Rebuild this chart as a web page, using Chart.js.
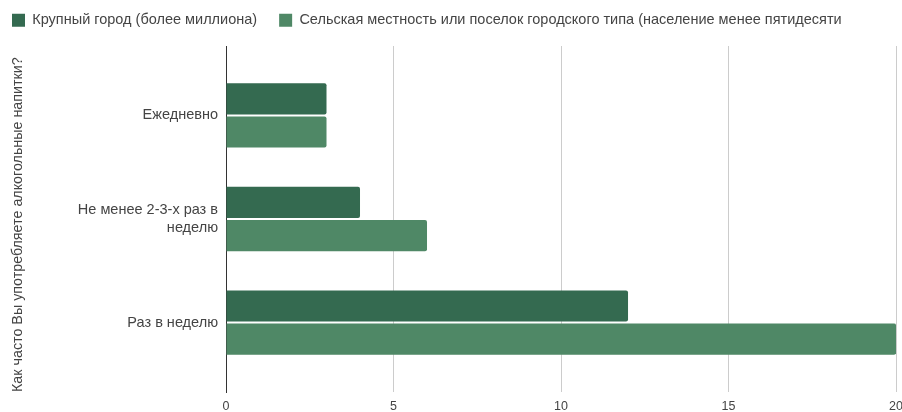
<!DOCTYPE html>
<html>
<head>
<meta charset="utf-8">
<script src="https://cdn.jsdelivr.net/npm/chart.js@4"></script>
<style>
  html, body { margin: 0; padding: 0; background: #fff; overflow: hidden; }
  #wrap { position: relative; width: 910px; height: 421px; }
</style>
</head>
<body>
<div id="wrap"><canvas id="chart"></canvas></div>
<script>
"use strict";

// ── données ──
const categories = ["Ежедневно", ["Не менее 2-3-х раз в", "неделю"], "Раз в неделю"];
const seriesNames = [
    "Крупный город (более миллиона)",
    "Сельская местность или поселок городского типа (население менее пятидесяти"
];
const bigCity  = [3, 4, 12];
const village  = [3, 6, 20];
const xTicks   = [0, 5, 10, 15, 20];
const axisTitle = "Как часто Вы употребляете алкогольные напитки?";

const FONT = "'Liberation Sans', Arial, sans-serif";
const LEGEND_H = 55;
const N = categories.length;
// première catégorie en haut : index inversé sur l'axe y linéaire
const toPoints = arr => arr.map((v, i) => ({ x: v, y: N - 1 - i }));

// hauteur fixe de la légende (espace avant la zone du graphique)
const legendGap = {
    id: "legendGap",
    beforeInit(chart) {
        const fit = chart.legend.fit;
        chart.legend.fit = function () { fit.call(this); this.height = LEGEND_H; };
    }
};

new Chart(document.getElementById("chart"), {
    type: "bar",
    data: {
        datasets: [
            { label: seriesNames[0], data: toPoints(bigCity), backgroundColor: "#346a50" },
            { label: seriesNames[1], data: toPoints(village), backgroundColor: "#4f8866" }
        ]
    },
    plugins: [legendGap],
    options: {
        indexAxis: "y",
        responsive: true, maintainAspectRatio: false,
        animation: false,
        layout: { padding: { left: -10, right: 0, top: -9, bottom: 0 } },
        datasets: { bar: { categoryPercentage: 0.64, barPercentage: 0.94, borderRadius: 2, borderSkipped: "start" } },
        plugins: {
            legend: {
                align: "start",
                labels: { boxWidth: 13, boxHeight: 13, color: "#444", padding: 22, font: { family: FONT, size: 14.5 } }
            },
            tooltip: { enabled: false }
        },
        scales: {
            x: {
                type: "linear", min: 0, max: 20,
                afterBuildTicks: s => { s.ticks = xTicks.map(v => ({ value: v })); },
                grid: { color: c => c.tick && c.tick.value === 0 ? "#333" : "#ccc", drawTicks: false },
                border: { display: false },
                ticks: { color: "#444", padding: 7, font: { family: FONT, size: 12.5 } }
            },
            y: {
                type: "linear", offset: false, min: -0.67, max: 2.67,
                afterBuildTicks: s => { s.ticks = categories.map((_, i) => ({ value: i })); },
                afterFit: s => { s.width = 236; },
                grid: { display: false, offset: false },
                border: { display: true, color: "#333", width: 1 },
                ticks: {
                    color: "#444", padding: 0, font: { family: FONT, size: 14.5 },
                    callback: v => categories[N - 1 - v]
                },
                title: {
                    display: true, text: axisTitle, color: "#444", align: "start",
                    padding: { top: 19, bottom: 0 }, font: { family: FONT, size: 14.3 }
                }
            }
        }
    }
});
</script>
</body>
</html>
